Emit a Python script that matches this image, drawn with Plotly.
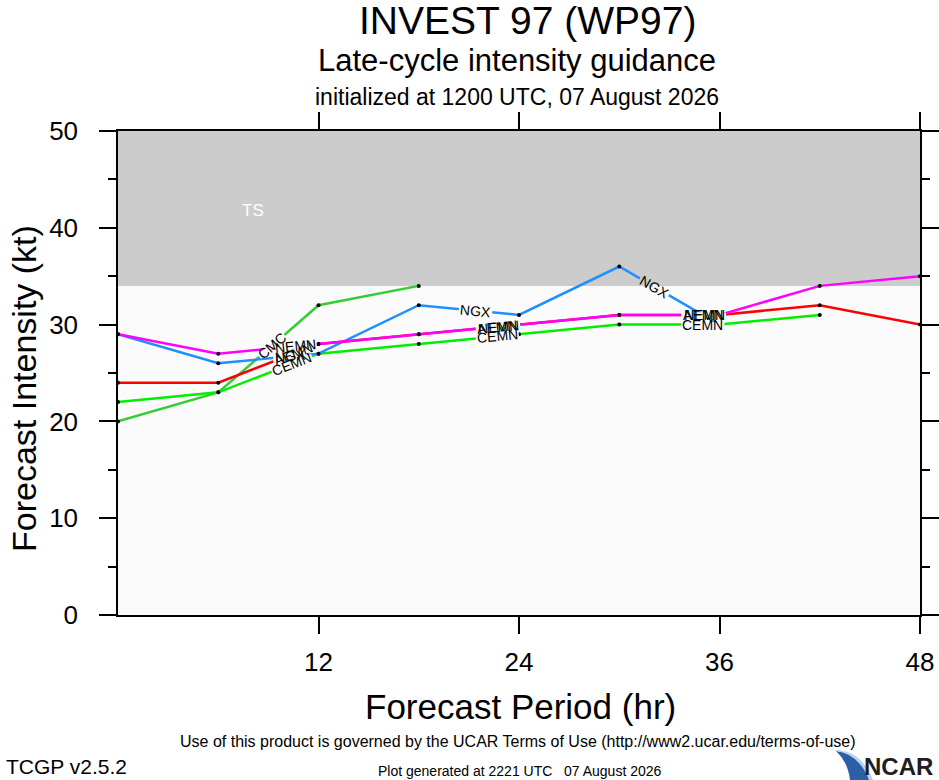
import math
import plotly.graph_objects as go

# forecast hours and intensities (kt) per model
hours = [0, 6, 12, 18, 24, 30, 36, 42, 48]

cmc = [20, 23, 32, 34]
cemn = [22, 23, 27, 28, 29, 30, 30, 31]
ngx = [29, 26, 27, 32, 31, 36, 30]
aemn = [24, 24, 28, 29, 30, 31, 31, 32, 30]
nemn = [29, 27, 28, 29, 30, 31, 31, 34, 35]

ts_threshold = 34

# line labels along each track (hour where the label sits)
models = [
    ("CMC", cmc, "#32CD32", [9.2]),
    ("CEMN", cemn, "#00EE00", [10.4, 22.7, 35.0]),
    ("NGX", ngx, "#1E90FF", [10.3, 21.4, 32.1]),
    ("AEMN", aemn, "#FF0000", [10.5, 22.7, 35.0]),
    ("NEMN", nemn, "#FF00FF", [10.6, 22.8, 35.1]),
]

FONT = "Liberation Sans, Arial, Helvetica, sans-serif"
NARROW = "Liberation Sans Narrow, Liberation Sans, Arial, sans-serif"

W, H = 939, 780
# plot box in pixels
L, R, T, B = 118, 920, 131, 615
XMAX, YMAX = 48, 50
pxh = (R - L) / XMAX   # px per hour
pxk = (B - T) / YMAX   # px per kt
LIGHT = "#FAFAFA"
GRAY = "#CCCCCC"


def px(x, y):
    # pixel -> paper coords
    return (x - L) / (R - L), (B - y) / (B - T)


def path(pts, cmds):
    out = []
    for c, p in zip(cmds, pts):
        out.append(c + " " + " ".join("%f %f" % px(*q) for q in p))
    return " ".join(out) + " Z"


fig = go.Figure()

fig.add_shape(type="rect", xref="x", yref="y", x0=0, x1=XMAX, y0=ts_threshold, y1=YMAX,
              fillcolor=GRAY, line_width=0, layer="below")

for name, vals, col, lab_hours in models:
    h = hours[:len(vals)]
    fig.add_trace(go.Scatter(x=h, y=vals, mode="lines+markers", name=name,
                             line=dict(color=col, width=2.5),
                             marker=dict(color="black", size=4),
                             showlegend=False))
    tw = len(name) * 0.7 * 14
    for lh in lab_hours:
        i = min(int(lh // 6), len(vals) - 2)
        t = (lh - h[i]) / (h[i + 1] - h[i])
        v = vals[i] + t * (vals[i + 1] - vals[i])
        dxp = pxh * (h[i + 1] - h[i])
        dyp = pxk * (vals[i + 1] - vals[i])
        n = math.hypot(dxp, dyp)
        ux, uy = dxp / n, dyp / n
        half = tw / 2 + 2
        x0, y0 = lh - half * ux / pxh, v - half * uy / pxk
        x1, y1 = lh + half * ux / pxh, v + half * uy / pxk
        # gap in the line under the label, matched to the background
        pieces = [(x0, y0, x1, y1)]
        if (y0 - ts_threshold) * (y1 - ts_threshold) < 0:
            s = (ts_threshold - y0) / (y1 - y0)
            xm = x0 + s * (x1 - x0)
            pieces = [(x0, y0, xm, ts_threshold), (xm, ts_threshold, x1, y1)]
        for a0, b0, a1, b1 in pieces:
            bg = GRAY if (b0 + b1) / 2 > ts_threshold else LIGHT
            fig.add_shape(type="line", xref="x", yref="y", x0=a0, y0=b0, x1=a1, y1=b1,
                          line=dict(color=bg, width=5), layer="above")
        ang = -math.degrees(math.atan2(dyp, dxp))
        fig.add_annotation(x=lh, y=v, xref="x", yref="y", text=name, showarrow=False,
                           textangle=ang, font=dict(family=FONT, size=14, color="black"))

fig.add_annotation(x=8.1, y=41.8, xref="x", yref="y", text="TS", showarrow=False,
                   font=dict(family=FONT, size=17, color="white"))

# titles and footers (pixel positions)
texts = [
    ("INVEST 97 (WP97)", 527, 21, 39, FONT, "center"),
    ("Late-cycle intensity guidance", 517, 61, 31, FONT, "center"),
    ("initialized at 1200 UTC, 07 August 2026", 517, 97, 23, FONT, "center"),
    ("Forecast Period (hr)", 520, 706, 35, FONT, "center"),
    ("Use of this product is governed by the UCAR Terms of Use (http://www2.ucar.edu/terms-of-use)",
     518, 741, 16, NARROW, "center"),
    ("TCGP v2.5.2", 4, 766, 21, NARROW, "left"),
    ("Plot generated at 2221 UTC   07 August 2026", 520, 771, 14, NARROW, "center"),
]
for txt, x, y, size, fam, anchor in texts:
    xp, yp = px(x, y)
    fig.add_annotation(x=xp, y=yp, xref="paper", yref="paper", text=txt, showarrow=False,
                       xanchor=anchor, yanchor="middle",
                       font=dict(family=fam, size=size, color="black"))

xp, yp = px(24, 389)
fig.add_annotation(x=xp, y=yp, xref="paper", yref="paper", text="Forecast Intensity (kt)",
                   showarrow=False, textangle=-90, xanchor="center", yanchor="middle",
                   font=dict(family=FONT, size=34, color="black"))

# NCAR logo
xp, yp = px(935, 766)
fig.add_annotation(x=xp, y=yp, xref="paper", yref="paper", text="<b>NCAR</b>", showarrow=False,
                   xanchor="right", yanchor="middle",
                   font=dict(family=NARROW, size=24, color="#1E1E1E"))
fig.add_shape(type="path", xref="paper", yref="paper",
              path=path([[(836, 751)], [(860, 753), (870, 780)], [(850, 780)], [(848, 762), (836, 751)]],
                        ["M", "Q", "L", "Q"]),
              fillcolor="#2D5FA6", line_width=0)
fig.add_shape(type="path", xref="paper", yref="paper",
              path=path([[(836, 750)], [(862, 751), (873, 780)], [(869, 780)], [(859, 754), (836, 751)]],
                        ["M", "Q", "L", "Q"]),
              fillcolor="#B9D4EE", line_width=0)

axis = dict(ticks="outside", ticklen=17, tickwidth=1.5, tickcolor="black", showline=True,
            linecolor="black", linewidth=1.5, mirror="allticks", showgrid=False,
            zeroline=False, automargin=False, tickfont=dict(size=26))

fig.update_layout(
    width=W, height=H,
    margin=dict(l=L, r=W - R, t=T, b=H - B, autoexpand=False),
    paper_bgcolor="white", plot_bgcolor=LIGHT,
    font=dict(family=FONT, color="black"),
    showlegend=False,
    xaxis=dict(axis, range=[0, XMAX], tickvals=[12, 24, 36, 48], ticklabelstandoff=6),
    yaxis=dict(axis, range=[0, YMAX], dtick=10, ticklabelstandoff=16,
               minor=dict(dtick=5, ticks="outside", ticklen=8, tickwidth=1.5, tickcolor="black")),
)

# no page margin, so the figure fills the window exactly
fig.write_html("out.html", config={"displayModeBar": False},
               post_script="document.body.style.margin='0';document.body.style.overflow='hidden';")
